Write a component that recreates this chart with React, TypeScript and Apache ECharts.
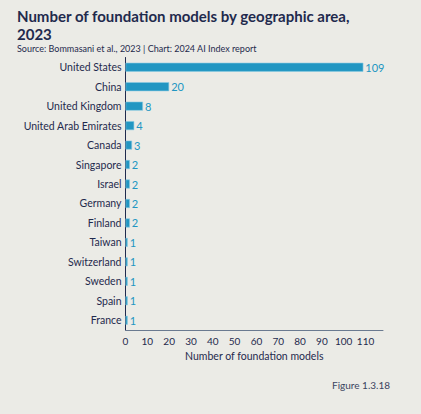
import React, { FC, useEffect, useRef } from "react";
import * as echarts from "echarts";

const countries = [
  "United States",
  "China",
  "United Kingdom",
  "United Arab Emirates",
  "Canada",
  "Singapore",
  "Israel",
  "Germany",
  "Finland",
  "Taiwan",
  "Switzerland",
  "Sweden",
  "Spain",
  "France",
];
const models = [109, 20, 8, 4, 3, 2, 2, 2, 2, 1, 1, 1, 1, 1];

const FONT = "Lato";
const NAVY = "#1f2a4d";
const BLUE = "#2196c2";

const App: FC = () => {
  const ref = useRef<HTMLDivElement>(null);

  useEffect(() => {
    const chart: any = echarts.init(ref.current, null, { renderer: "svg" });
    const titleStyle = {
      fontFamily: FONT,
      fontSize: 15,
      fontWeight: "bold",
      color: NAVY,
      lineHeight: 18,
    };
    chart.setOption({
      animation: false,
      backgroundColor: "#ebebe6",
      title: [
        // titre sur deux lignes
        {
          text: "Number of foundation models by geographic area,",
          left: 17,
          top: 7,
          padding: 0,
          textStyle: titleStyle,
        },
        {
          text: "2023",
          left: 17,
          top: 25,
          padding: 0,
          textStyle: titleStyle,
        },
        {
          text: "Source: Bommasani et al., 2023 | Chart: 2024 AI Index report",
          left: 17,
          top: 43,
          padding: 0,
          textStyle: {
            fontFamily: FONT,
            fontSize: 9,
            fontWeight: "normal",
            color: NAVY,
            lineHeight: 11,
          },
        },
        {
          text: "Figure 1.3.18",
          right: 31,
          top: 380,
          padding: 0,
          textStyle: {
            fontFamily: FONT,
            fontSize: 10,
            fontWeight: "normal",
            color: "#3a4460",
          },
        },
      ],
      grid: { left: 125.5, right: 38, top: 57.5, bottom: 84 },
      xAxis: {
        type: "value",
        min: 0,
        max: 118,
        interval: 10,
        splitLine: { show: false },
        axisLine: { show: true, lineStyle: { color: "#6a7a90", width: 1 } },
        axisTick: { show: false },
        axisLabel: {
          showMaxLabel: false,
          fontFamily: FONT,
          fontSize: 10,
          color: NAVY,
          margin: 6,
        },
        name: "Number of foundation models",
        nameLocation: "middle",
        nameGap: 20,
        nameTextStyle: { fontFamily: FONT, fontSize: 10.5, color: NAVY },
      },
      yAxis: {
        type: "category",
        data: countries,
        inverse: true,
        axisLine: { show: true, lineStyle: { color: NAVY, width: 1 } },
        axisTick: { show: false },
        axisLabel: {
          fontFamily: FONT,
          fontSize: 10.5,
          color: NAVY,
          margin: 4,
        },
      },
      series: [
        {
          type: "bar",
          data: models,
          barWidth: 9,
          itemStyle: { color: BLUE, borderColor: "#8ccbe2", borderWidth: 0.6 },
          label: {
            show: true,
            position: "right",
            distance: 2,
            fontFamily: FONT,
            fontSize: 11,
            color: BLUE,
          },
        },
      ],
    });
    return () => {
      chart.dispose && chart.dispose();
    };
  }, []);

  return (
    <div
      ref={ref}
      style={{ position: "absolute", left: 0, top: 0, width: 421, height: 414 }}
    ></div>
  );
};

export default App;
